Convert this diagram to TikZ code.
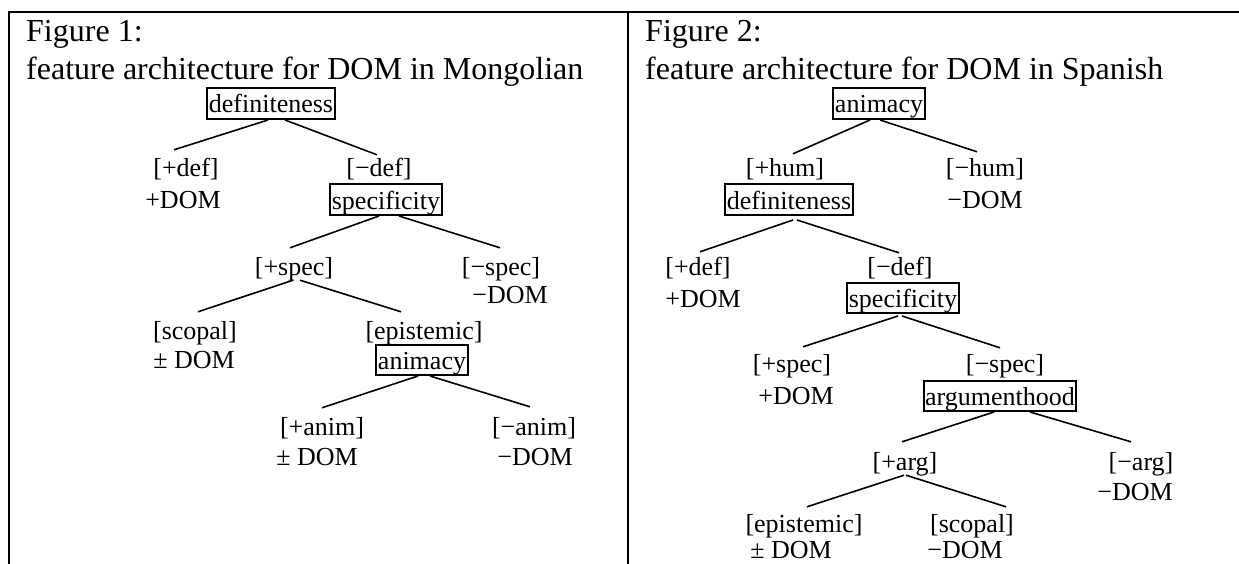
\documentclass[tikz,border=0pt]{standalone}
\usepackage{fontspec}
\setmainfont{Liberation Serif}
\newcommand\trfont{\fontsize{26}{30}\selectfont}
\newcommand\ttlfont{\fontsize{32}{38}\selectfont}
\begin{document}
\begin{tikzpicture}[x=1pt,y=-1pt,
  every node/.style={inner sep=0pt, font=\trfont},
  lab/.style={anchor=base, text height=20pt, text depth=6pt},
  lastlab/.style={anchor=base, text height=20pt, text depth=0pt},
  fbox/.style={anchor=base, draw, line width=2pt, text height=23pt, text depth=4.5pt, inner xsep=1.5pt, inner ysep=1.5pt},
  edgeline/.style={line width=1.6pt},
  ttl/.style={anchor=base west, font=\ttlfont},
  frameline/.style={line width=2.2pt}]
\useasboundingbox (0,0) rectangle (1239,564);
% table frame
\draw[frameline] (9,564) -- (9,12) -- (1239,12);
\draw[frameline] (628,12) -- (628,564);
% titles
\node[ttl] (t1a) at (26,42) {Figure 1:};
\node[ttl] (t1b) at (26,80) {feature architecture for DOM in Mongolian};
\node[ttl] (t2a) at (645,42) {Figure 2:};
\node[ttl] (t2b) at (645,80) {feature architecture for DOM in Spanish};
% ---------- Figure 1 ----------
\node[fbox] (Ldef) at (271,113) {definiteness};
\node[lab] (Lpdef) at (186,177) {[+def]};
\node[lab] (Lpdefd) at (183,208) {+DOM};
\node[lab] (Lmdef) at (379,177) {[−def]};
\node[fbox] (Lspec) at (386,209) {specificity};
\node[lab] (Lpspec) at (294,275) {[+spec]};
\node[lab] (Lmspec) at (501,275) {[−spec]};
\node[lab] (Lmspecd) at (510,303) {−DOM};
\node[lab] (Lscop) at (195,339) {[scopal]};
\node[lab] (Lscopd) at (194,368) {± DOM};
\node[lab] (Lepis) at (424,339) {[epistemic]};
\node[fbox] (Lanim) at (422,369) {animacy};
\node[lab] (Lpanim) at (322,435) {[+anim]};
\node[lab] (Lpanimd) at (317,465) {± DOM};
\node[lab] (Lmanim) at (534,435) {[−anim]};
\node[lab] (Lmanimd) at (535,465) {−DOM};
\draw[edgeline] ([xshift=-3pt]Ldef.south) -- ([xshift=-12pt,yshift=7pt]Lpdef.north);
\draw[edgeline] ([xshift=14pt]Ldef.south) -- ([xshift=-2pt,yshift=2pt]Lmdef.north);
\draw[edgeline] ([xshift=-7pt]Lspec.south) -- ([xshift=-4pt,yshift=7pt]Lpspec.north);
\draw[edgeline] ([xshift=13pt]Lspec.south) -- ([xshift=-1pt,yshift=7pt]Lmspec.north);
\draw[edgeline] ([xshift=-1pt,yshift=1pt]Lpspec.south) -- ([xshift=3pt,yshift=7pt]Lscop.north);
\draw[edgeline] ([xshift=6pt,yshift=1pt]Lpspec.south) -- ([xshift=-23pt,yshift=7pt]Lepis.north);
\draw[edgeline] ([xshift=-4pt]Lanim.south) -- ([yshift=7pt]Lpanim.north);
\draw[edgeline] ([xshift=8pt]Lanim.south) -- ([xshift=-4pt,yshift=8pt]Lmanim.north);
% ---------- Figure 2 ----------
\node[fbox] (Ranim) at (879,113) {animacy};
\node[lab] (Rphum) at (785,177) {[+hum]};
\node[lab] (Rmhum) at (985,177) {[−hum]};
\node[lab] (Rmhumd) at (985,208) {−DOM};
\node[fbox] (Rdef) at (789,209) {definiteness};
\node[lab] (Rpdef) at (698,275) {[+def]};
\node[lab] (Rpdefd) at (703,307) {+DOM};
\node[lab] (Rmdef) at (900,275) {[−def]};
\node[fbox] (Rspec) at (903,307) {specificity};
\node[lab] (Rpspec) at (792,372) {[+spec]};
\node[lab] (Rpspecd) at (796,404) {+DOM};
\node[lab] (Rmspec) at (1005,372) {[−spec]};
\node[fbox] (Rarg) at (1000,405) {argumenthood};
\node[lab] (Rparg) at (905,470) {[+arg]};
\node[lab] (Rmarg) at (1141,470) {[−arg]};
\node[lab] (Rmargd) at (1135,500) {−DOM};
\node[lab] (Repis) at (804,532) {[epistemic]};
\node[lastlab] (Repisd) at (791,558) {± DOM};
\node[lab] (Rscop) at (972,532) {[scopal]};
\node[lastlab] (Rscopd) at (965,558) {−DOM};
\draw[edgeline] ([xshift=-9pt]Ranim.south) -- ([xshift=8pt,yshift=3pt]Rphum.north);
\draw[edgeline] ([xshift=1pt]Ranim.south) -- ([xshift=-8pt,yshift=5pt]Rmhum.north);
\draw[edgeline] ([xshift=4pt,yshift=-4pt]Rdef.south) -- ([xshift=2pt,yshift=3pt]Rpdef.north);
\draw[edgeline] ([xshift=8pt,yshift=-4pt]Rdef.south) -- ([xshift=-1pt,yshift=2pt]Rmdef.north);
\draw[edgeline] ([xshift=-5pt,yshift=-2pt]Rspec.south) -- ([xshift=11pt,yshift=5pt]Rpspec.north);
\draw[edgeline] ([xshift=-1pt,yshift=-2pt]Rspec.south) -- ([xshift=-5pt,yshift=4pt]Rmspec.north);
\draw[edgeline] ([xshift=-6pt]Rarg.south) -- ([xshift=-3pt,yshift=8pt]Rparg.north);
\draw[edgeline] ([xshift=30pt]Rarg.south) -- ([xshift=-10pt,yshift=8pt]Rmarg.north);
\draw[edgeline] ([xshift=-1pt,yshift=1pt]Rparg.south) -- ([xshift=3pt,yshift=5pt]Repis.north);
\draw[edgeline] ([xshift=1pt,yshift=1pt]Rparg.south) -- ([xshift=34pt,yshift=5pt]Rscop.north);
\end{tikzpicture}
\end{document}
